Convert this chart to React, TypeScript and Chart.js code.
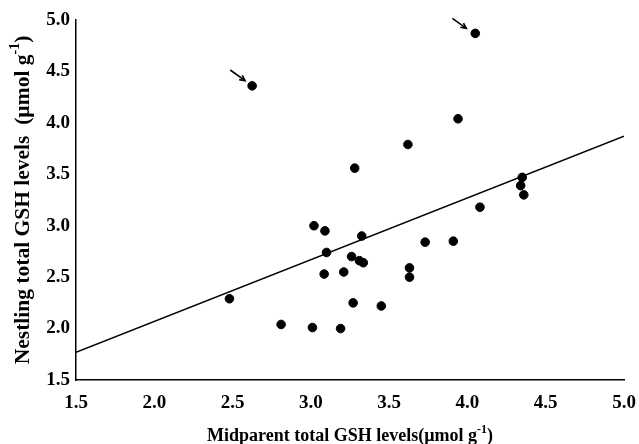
import React, { useEffect, useRef } from "react";
import { Chart, registerables } from "chart.js";

Chart.register(...registerables);

const xValues = [2.48, 2.625, 2.81, 3.01, 3.02, 3.09, 3.1, 3.085, 3.19, 3.21, 3.28, 3.26, 3.27, 3.31, 3.335, 3.325, 3.45, 3.62, 3.63, 3.63, 3.73, 3.91, 3.94, 4.05, 4.08, 4.34, 4.35, 4.36];
const yValues = [2.29, 4.36, 2.04, 2.01, 3.0, 2.95, 2.74, 2.53, 2.0, 2.55, 3.56, 2.7, 2.25, 2.66, 2.64, 2.9, 2.22, 3.79, 2.59, 2.5, 2.84, 2.85, 4.04, 4.87, 3.18, 3.39, 3.47, 3.3];
const fitX = [1.5, 5.0];
const fitY = [1.77, 3.87];
const arrowStarts = [[2.485, 4.514], [3.904, 5.016]];
const arrowEnds = [[2.58, 4.41], [3.993, 4.919]];
const xTitle = "Midparent total GSH levels(\u00b5mol g";
const yTitle = "Nestling total GSH levels  (\u00b5mol g";
const superscript = "-1";

const FONT = "'Liberation Serif', 'Times New Roman', serif";

function drawTitleWithSup(ctx: CanvasRenderingContext2D, main: string, cx: number, cy: number, size: number) {
  const mainFont = `bold ${size}px ${FONT}`;
  const supFont = `bold ${Math.round(size * 0.65)}px ${FONT}`;
  ctx.font = mainFont;
  const wMain = ctx.measureText(main).width;
  ctx.font = supFont;
  const wSup = ctx.measureText(superscript).width;
  ctx.font = mainFont;
  const wClose = ctx.measureText(")").width;
  const total = wMain + wSup + wClose;
  let x = cx - total / 2;
  ctx.textBaseline = "alphabetic";
  ctx.textAlign = "left";
  ctx.fillStyle = "#000";
  ctx.font = mainFont;
  ctx.fillText(main, x, cy + size * 0.33);
  x += wMain;
  ctx.font = supFont;
  ctx.fillText(superscript, x, cy - size * 0.12);
  x += wSup;
  ctx.font = mainFont;
  ctx.fillText(")", x, cy + size * 0.33);
}

const annotPlugin = {
  id: "annot",
  afterDraw(chart: any) {
    const { ctx, scales, chartArea } = chart;
    const xs = scales.x;
    const ys = scales.y;
    ctx.save();
    ctx.strokeStyle = "#000";
    ctx.fillStyle = "#000";
    ctx.lineWidth = 1.6;
    for (let i = 0; i < arrowStarts.length; i++) {
      const x1 = xs.getPixelForValue(arrowStarts[i][0]);
      const y1 = ys.getPixelForValue(arrowStarts[i][1]);
      const x2 = xs.getPixelForValue(arrowEnds[i][0]);
      const y2 = ys.getPixelForValue(arrowEnds[i][1]);
      const ang = Math.atan2(y2 - y1, x2 - x1);
      ctx.beginPath();
      ctx.moveTo(x1, y1);
      ctx.lineTo(x2, y2);
      ctx.stroke();
      const hl = 6;
      ctx.beginPath();
      ctx.moveTo(x2 + Math.cos(ang + Math.PI - 0.45) * hl, y2 + Math.sin(ang + Math.PI - 0.45) * hl);
      ctx.lineTo(x2, y2);
      ctx.lineTo(x2 + Math.cos(ang + Math.PI + 0.45) * hl, y2 + Math.sin(ang + Math.PI + 0.45) * hl);
      ctx.stroke();
    }
    const cxMid = (chartArea.left + chartArea.right) / 2;
    drawTitleWithSup(ctx, xTitle, cxMid, 435, 18);
    ctx.save();
    ctx.translate(22, (chartArea.top + chartArea.bottom) / 2);
    ctx.rotate(-Math.PI / 2);
    drawTitleWithSup(ctx, yTitle, 0, 0, 21.5);
    ctx.restore();
    ctx.restore();
  },
};

export default function App() {
  const ref = useRef<HTMLCanvasElement>(null);
  useEffect(() => {
    if (!ref.current) return;
    const chart = new Chart(ref.current, {
      type: "scatter",
      data: {
        datasets: [
          {
            type: "line",
            label: "fit",
            data: fitX.map((x, i) => ({ x, y: fitY[i] })),
            borderColor: "#000",
            borderWidth: 1.5,
            pointRadius: 0,
            fill: false,
          } as any,
          {
            label: "GSH",
            data: xValues.map((x, i) => ({ x, y: yValues[i] })),
            backgroundColor: "#000",
            borderColor: "#000",
            pointRadius: 4.3,
            pointHoverRadius: 4.3,
          },
        ],
      },
      options: {
        animation: false,
        responsive: false,
        maintainAspectRatio: false,
        layout: { padding: { top: 20, right: 15, bottom: 0, left: 0 } },
        plugins: { legend: { display: false }, tooltip: { enabled: false } },
        scales: {
          x: {
            type: "linear",
            min: 1.5,
            max: 5.0,
            grid: { display: false, drawTicks: false },
            border: { display: true, color: "#000", width: 1.5 },
            ticks: {
              stepSize: 0.5,
              color: "#000",
              padding: 12,
              font: { family: FONT, size: 19, weight: "bold" },
              callback: (v: any) => Number(v).toFixed(1),
              maxRotation: 0,
            },
            afterFit: (s: any) => {
              s.height = 64;
              s.paddingLeft = 0;
              s.paddingRight = 0;
            },
          },
          y: {
            type: "linear",
            min: 1.5,
            max: 5.0,
            grid: { display: false, drawTicks: false },
            border: { display: true, color: "#000", width: 1.5 },
            ticks: {
              stepSize: 0.5,
              color: "#000",
              padding: 6,
              font: { family: FONT, size: 19, weight: "bold" },
              callback: (v: any) => Number(v).toFixed(1),
            },
            afterFit: (s: any) => {
              s.width = 76;
              s.paddingTop = 0;
              s.paddingBottom = 0;
            },
          },
        },
      } as any,
      plugins: [annotPlugin],
    });
    return () => chart.destroy();
  }, []);
  return (
    <div style={{ position: "fixed", left: 0, top: 0, width: 639, height: 444, background: "#fff" }}>
      <canvas ref={ref} width={639} height={444} style={{ width: 639, height: 444, display: "block" }} />
    </div>
  );
}
